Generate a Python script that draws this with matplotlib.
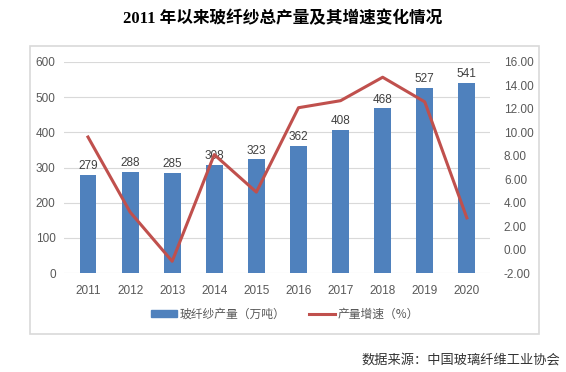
import matplotlib.pyplot as plt
from matplotlib.patches import Rectangle
from matplotlib.lines import Line2D
from matplotlib.ticker import FormatStrFormatter

plt.rcParams['font.family'] = ['Noto Sans CJK SC', 'DejaVu Sans']

years = ['2011', '2012', '2013', '2014', '2015', '2016', '2017', '2018', '2019', '2020']
output = [279, 288, 285, 308, 323, 362, 408, 468, 527, 541]
growth = [9.6, 3.2, -1.0, 8.1, 4.9, 12.1, 12.7, 14.7, 12.6, 2.7]

bar_color = '#4F81BD'
line_color = '#C0504D'
grey = '#595959'

fig = plt.figure(figsize=(5.66, 3.72), dpi=100)
ax = fig.add_axes([64/566, 1 - 273/372, (490-64)/566, (273-62)/372])

x = list(range(len(years)))
bars = ax.bar(x, output, width=0.4, color=bar_color, zorder=2)
for xi, v in zip(x, output):
    ax.text(xi, v + 8, str(v), ha='center', va='bottom', fontsize=8.5, color='#404040',
            family=['Liberation Sans', 'DejaVu Sans'], zorder=4)

ax.set_ylim(0, 600)
ax.set_yticks(range(0, 601, 100))
ax.set_xlim(-0.57, 9.55)
ax.set_xticks(x)
ax.set_xticklabels(years)
ax.grid(axis='y', color='#D9D9D9', linewidth=0.8, zorder=0)
for s in ax.spines.values():
    s.set_visible(False)
ax.tick_params(length=0, labelsize=8.5, labelcolor=grey, pad=6)
ax.tick_params(axis='x', pad=9)
for lab in ax.get_xticklabels() + ax.get_yticklabels():
    lab.set_family(['Liberation Sans', 'DejaVu Sans'])

ax2 = ax.twinx()
ax2.plot(x, growth, color=line_color, linewidth=2.2, zorder=3)
ax2.set_ylim(-2, 16)
ax2.set_yticks(range(-2, 17, 2))
ax2.yaxis.set_major_formatter(FormatStrFormatter('%.2f'))
for s in ax2.spines.values():
    s.set_visible(False)
ax2.tick_params(length=0, labelsize=8.5, labelcolor=grey, pad=10)
for lab in ax2.get_yticklabels():
    lab.set_family(['Liberation Sans', 'DejaVu Sans'])

handles = [Rectangle((0, 0), 1, 1, color=bar_color),
           Line2D([0], [0], color=line_color, linewidth=2.2)]
fig.legend(handles, ['玻纤纱产量（万吨）', '产量增速（%）'], loc='center',
           bbox_to_anchor=(285/566, 1 - 314/372), ncol=2, frameon=False,
           fontsize=8.5, labelcolor=grey, handlelength=2.2, handleheight=0.5,
           handletextpad=0.2, columnspacing=2.0)

fig.patches.append(Rectangle((30/566, 1 - 334/372), (539-30)/566, (334-46)/372,
                             transform=fig.transFigure, fill=False,
                             edgecolor='#D9D9D9', linewidth=1.2))

fig.text(283/566, 1 - 19/372, '2011 年以来玻纤纱总产量及其增速变化情况', ha='center', va='center',
         fontsize=12, fontweight='bold', family=['Liberation Serif', 'Noto Sans CJK SC'])
fig.text(560/566, 1 - 360/372, '数据来源：中国玻璃纤维工业协会', ha='right', va='center',
         fontsize=9.5, color='#333333')

fig.savefig('out.png', dpi=100)
